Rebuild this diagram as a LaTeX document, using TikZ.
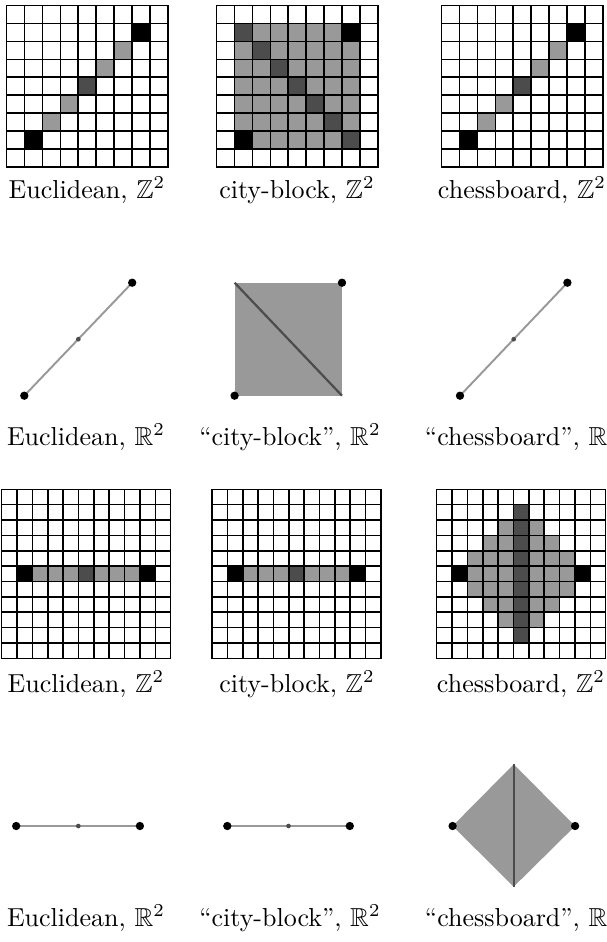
\documentclass[tikz,border=0pt]{standalone}
\usepackage{amssymb}
\usepackage{amsmath}
\usepackage{tikz}

\definecolor{lightcell}{gray}{0.6}
\definecolor{darkcell}{gray}{0.3}

\newcommand{\cellgrid}[1]{%
	\foreach \i in {0,...,#1} {
		\draw [gridline] (\i,0) -- (\i,#1);
		\draw [gridline] (0,\i) -- (#1,\i);
	}
}

\begin{document}
\begin{tikzpicture}[x=0.3846pt,y=-0.3846pt]
	\tikzstyle{every node}+=[inner sep=0pt,anchor=base]
	\tikzstyle{gridline}=[black,line width=0.6pt,line cap=rect]
	\tikzstyle{segline}=[lightcell,line width=0.75pt]
	\tikzstyle{midline}=[darkcell,line width=0.85pt]
	\useasboundingbox (0,0) rectangle (606,942);
	% first row, Z^2
	\begin{scope}[shift={(6.7,5.7)},x=6.881pt,y=-6.881pt]
		\foreach \c/\r in {2/6,3/5,5/3,6/2} \fill [lightcell] (\c,\r) rectangle +(1,1);
		\fill [darkcell] (4,4) rectangle +(1,1);
		\fill [black] (1,7) rectangle +(1,1);
		\fill [black] (7,1) rectangle +(1,1);
		\cellgrid{9}
	\end{scope}
	\begin{scope}[shift={(216.7,5.7)},x=6.881pt,y=-6.881pt]
		\fill [lightcell] (1,1) rectangle (8,8);
		\foreach \k in {1,...,7} \fill [darkcell] (\k,\k) rectangle +(1,1);
		\fill [black] (1,7) rectangle +(1,1);
		\fill [black] (7,1) rectangle +(1,1);
		\cellgrid{9}
	\end{scope}
	\begin{scope}[shift={(441.7,5.7)},x=6.881pt,y=-6.881pt]
		\foreach \c/\r in {2/6,3/5,5/3,6/2} \fill [lightcell] (\c,\r) rectangle +(1,1);
		\fill [darkcell] (4,4) rectangle +(1,1);
		\fill [black] (1,7) rectangle +(1,1);
		\fill [black] (7,1) rectangle +(1,1);
		\cellgrid{9}
	\end{scope}
	\node (lab1a) at (87,198) {Euclidean, $\mathbb{Z}^2$};
	\node (lab1b) at (297,198) {city-block, $\mathbb{Z}^2$};
	\node (lab1c) at (522,198) {chessboard, $\mathbb{Z}^2$};
	% second row, R^2
	\coordinate (e2a) at (24.3,395.7);
	\coordinate (e2b) at (132.2,282.7);
	\coordinate (e2m) at (78.3,339.2);
	\draw [segline] (e2a) -- (e2b);
	\fill [darkcell] (e2m) circle (0.9pt);
	\fill [black] (e2a) circle (1.6pt);
	\fill [black] (e2b) circle (1.6pt);
	\coordinate (c2a) at (234.6,395.7);
	\coordinate (c2b) at (342,282.7);
	\fill [lightcell] (c2a) rectangle (c2b);
	\draw [midline] (c2a |- c2b) -- (c2b |- c2a);
	\fill [black] (c2a) circle (1.6pt);
	\fill [black] (c2b) circle (1.6pt);
	\coordinate (h2a) at (460,395.7);
	\coordinate (h2b) at (567.4,282.7);
	\coordinate (h2m) at (513.7,339.2);
	\draw [segline] (h2a) -- (h2b);
	\fill [darkcell] (h2m) circle (0.9pt);
	\fill [black] (h2a) circle (1.6pt);
	\fill [black] (h2b) circle (1.6pt);
	\node (lab2a) at (86,445) {Euclidean, $\mathbb{R}^2$};
	\node (lab2b) at (290,445) {``city-block'', $\mathbb{R}^2$};
	\node (lab2c) at (522,445) {``chessboard'', $\mathbb{R}^2$};
	% third row, Z^2
	\begin{scope}[shift={(1.7,489.3)},x=5.909pt,y=-5.909pt]
		\fill [lightcell] (2,5) rectangle (9,6);
		\fill [darkcell] (5,5) rectangle +(1,1);
		\fill [black] (1,5) rectangle +(1,1);
		\fill [black] (9,5) rectangle +(1,1);
		\cellgrid{11}
	\end{scope}
	\begin{scope}[shift={(212,489.3)},x=5.909pt,y=-5.909pt]
		\fill [lightcell] (2,5) rectangle (9,6);
		\fill [darkcell] (5,5) rectangle +(1,1);
		\fill [black] (1,5) rectangle +(1,1);
		\fill [black] (9,5) rectangle +(1,1);
		\cellgrid{11}
	\end{scope}
	\begin{scope}[shift={(436.7,489.3)},x=5.909pt,y=-5.909pt]
		\fill [lightcell] (4,2) rectangle (7,3);
		\fill [lightcell] (3,3) rectangle (8,4);
		\fill [lightcell] (2,4) rectangle (9,7);
		\fill [lightcell] (3,7) rectangle (8,8);
		\fill [lightcell] (4,8) rectangle (7,9);
		\fill [darkcell] (5,1) rectangle (6,10);
		\fill [black] (1,5) rectangle +(1,1);
		\fill [black] (9,5) rectangle +(1,1);
		\cellgrid{11}
	\end{scope}
	\node (lab3a) at (86,692) {Euclidean, $\mathbb{Z}^2$};
	\node (lab3b) at (297,692) {city-block, $\mathbb{Z}^2$};
	\node (lab3c) at (521,692) {chessboard, $\mathbb{Z}^2$};
	% fourth row, R^2
	\coordinate (e4a) at (16.2,826);
	\coordinate (e4b) at (139.9,826);
	\coordinate (e4m) at (78.3,826);
	\draw [segline] (e4a) -- (e4b);
	\fill [darkcell] (e4m) circle (0.9pt);
	\fill [black] (e4a) circle (1.6pt);
	\fill [black] (e4b) circle (1.6pt);
	\coordinate (c4a) at (227.3,826);
	\coordinate (c4b) at (349.8,826);
	\coordinate (c4m) at (288.5,826);
	\draw [segline] (c4a) -- (c4b);
	\fill [darkcell] (c4m) circle (0.9pt);
	\fill [black] (c4a) circle (1.6pt);
	\fill [black] (c4b) circle (1.6pt);
	\coordinate (h4a) at (452.6,826);
	\coordinate (h4b) at (575.1,826);
	\coordinate (h4t) at (513.7,764.3);
	\coordinate (h4d) at (513.7,886.7);
	\fill [lightcell] (h4a) -- (h4t) -- (h4b) -- (h4d) -- cycle;
	\draw [midline] (h4t) -- (h4d);
	\fill [black] (h4a) circle (1.6pt);
	\fill [black] (h4b) circle (1.6pt);
	\node (lab4a) at (86,926) {Euclidean, $\mathbb{R}^2$};
	\node (lab4b) at (290,926) {``city-block'', $\mathbb{R}^2$};
	\node (lab4c) at (522,926) {``chessboard'', $\mathbb{R}^2$};
\end{tikzpicture}
\end{document}
